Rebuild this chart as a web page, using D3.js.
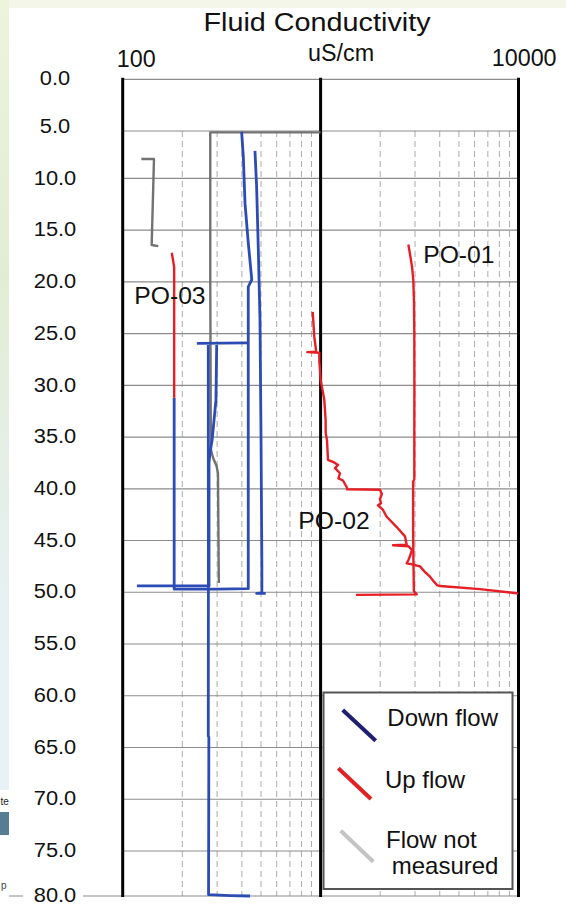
<!DOCTYPE html>
<html>
<head>
<meta charset="utf-8">
<script src="https://cdn.jsdelivr.net/npm/d3@7"></script>
<style>
  body { margin: 0; background: #fff; }
  svg { display: block; font-family: "Liberation Sans", Arial, sans-serif; }
</style>
</head>
<body>
<svg id="chart" width="566" height="916"></svg>
<script>
// ---- Axis ticks and labels ----
const depthTicks = [0, 5, 10, 15, 20, 25, 30, 35, 40, 45, 50, 55, 60, 65, 70, 75, 80];
const depthTickLabels = depthTicks.map(d => d.toFixed(1));
const condTicks = [100, 1000, 10000];
const condTickLabels = ["100", "uS/cm", "10000"];
const condMinorTicks = [200, 300, 400, 500, 600, 700, 800, 900,
                        2000, 3000, 4000, 5000, 6000, 7000, 8000, 9000];

// ---- Logged profiles: [depth (m), conductivity (uS/cm)] ----
const po01Up = [[16.4, 2775], [17.5, 2840], [18.6, 2900], [19.8, 2940], [22, 2965], [25, 2975],
  [30, 2978], [35, 2975], [39.1, 2975], [39.3, 2935], [44, 2935], [47, 2945], [49.9, 2960],
  [50.2, 3060], [50.25, 1510]];

const po02Up = [[22.9, 912], [24, 920], [25.3, 929], [26.4, 945], [26.75, 950], [26.8, 857],
  [26.85, 985], [27.6, 985], [29.5, 1001], [31.4, 1044], [33.35, 1060], [34.6, 1061], [35.3, 1077],
  [37.2, 1090], [37.35, 1138], [37.5, 1182], [37.7, 1225], [38.0, 1182], [38.5, 1253], [39.0, 1230],
  [39.2, 1298], [39.9, 1360], [40.05, 1360], [40.1, 1996], [40.5, 2040], [41.0, 1996], [41.4, 2020],
  [41.6, 1950], [42.0, 2060], [42.7, 2158], [43.7, 2424], [44.6, 2670], [45.4, 2723], [45.45, 2322],
  [45.55, 2775], [45.9, 2895], [46.5, 2830], [46.9, 2775], [47.2, 2723], [47.3, 2900], [47.5, 3179],
  [48.0, 3350], [48.5, 3572], [49.0, 3750], [49.3, 3874], [49.4, 4011], [49.7, 6391], [50.1, 9793],
  [50.15, 9950]];

const po03Up = [[17.2, 177], [18.0, 180], [18.6, 182], [25, 182], [31.2, 182]];

const downFlowA = [[31.2, 182], [49.7, 182], [49.7, 300], [49.65, 431], [40, 431], [30, 431],
  [25.9, 431], [21.8, 431], [20.5, 431], [19.8, 449], [16, 430], [12.4, 415], [7.75, 407], [5.1, 399]];
const downFlowB = [[25.95, 237], [25.9, 431]];
const downFlowC = [[26.1, 298.5], [31.4, 296], [35.3, 283], [36.5, 276], [37.5, 273], [49.39, 273],
  [49.39, 118]];
const downFlowD = [[26.1, 270.7], [49, 271], [63.9, 270.7], [64, 272.5], [79.85, 271.5],
  [79.95, 350], [80, 440]];
const downFlowE = [[7.1, 466], [10.8, 475], [17.2, 485], [23.7, 494], [35, 500], [47.5, 505],
  [50.05, 505], [50.1, 475], [50.1, 528]];

const notMeasuredA = [[5.15, 1000], [5.15, 277], [20, 277], [36.2, 279], [37, 286], [37.8, 298],
  [38.5, 303], [49.1, 306]];
const notMeasuredB = [[7.96, 124.2], [7.96, 143.9], [16.44, 140.1], [16.55, 151.3]];

const wellNames = ["PO-01", "PO-02", "PO-03"];
const legendLabels = ["Down flow", "Up flow", "Flow not measured"];

// ---- Styles ----
const BLUE = "#2d4bb4", RED = "#e61e25", GRAY = "#727272";
const LEGEND_COLORS = ["#1f1f70", "#e02226", "#c4c4c4"];

const svg = d3.select("#chart");

// Scales (depth axis runs downward; the end intervals are slightly compressed)
const x = d3.scaleLog().domain([100, 10000]).range([122.7, 518.5]);
const y = d3.scaleLinear().domain([0, 5, 10, 75, 80]).range([79.3, 131, 178.3, 851, 896]);
const yLabel = d3.scaleLinear().domain([0, 5, 75, 80]).range([78, 126, 850, 895]);

// ---- Page background: pale slide edges ----
const defs = svg.append("defs");
const grad = defs.append("linearGradient").attr("id", "edge").attr("x1", 0).attr("y1", 0).attr("x2", 0).attr("y2", 1);
[["0%", "#eef3dc"], ["35%", "#e1edd3"], ["60%", "#e5efe8"], ["85%", "#e8f1f6"], ["100%", "#e8f1f6"]]
  .forEach(([o, c]) => grad.append("stop").attr("offset", o).attr("stop-color", c));
svg.append("rect").attr("x", 0).attr("y", 0).attr("width", 566).attr("height", 8).attr("fill", "#f4f6ea");
svg.append("rect").attr("x", 0).attr("y", 0).attr("width", 9).attr("height", 790).attr("fill", "url(#edge)");
svg.append("rect").attr("x", 0).attr("y", 812).attr("width", 9).attr("height", 23).attr("fill", "#587c93");
svg.append("text").attr("x", 0.5).attr("y", 805)
  .style("font-size", "10px").attr("fill", "#222").text("te");
svg.append("text").attr("x", 1).attr("y", 889)
  .style("font-size", "10px").attr("fill", "#444").text("p");

// ---- Grid ----
const grid = svg.append("g");
grid.selectAll("line.minor").data(condMinorTicks).join("line")
  .attr("x1", d => x(d)).attr("x2", d => x(d))
  .attr("y1", y(5)).attr("y2", y(80))
  .attr("stroke", "#ababab").attr("stroke-width", 1).attr("stroke-dasharray", "6,4");
grid.selectAll("line.h").data(depthTicks).join("line")
  .attr("x1", x(100)).attr("x2", x(10000))
  .attr("y1", d => y(d)).attr("y2", d => y(d))
  .attr("stroke", "#8c8c8c").attr("stroke-width", 1.2);
// bottom rule extends left under the depth labels
grid.append("line").attr("x1", 9).attr("x2", x(100)).attr("y1", y(80)).attr("y2", y(80))
  .attr("stroke", "#8c8c8c").attr("stroke-width", 1.2);
grid.selectAll("line.major").data(condTicks).join("line")
  .attr("x1", d => x(d)).attr("x2", d => x(d))
  .attr("y1", y(0) - 1.5).attr("y2", y(80) + 1)
  .attr("stroke", "#000").attr("stroke-width", 3);

// ---- Stretched text helper ----
function stretchText(g, px, py, txt, fs, sx, anchor) {
  return g.append("text")
    .attr("transform", `translate(${px},${py}) scale(${sx},1)`)
    .attr("text-anchor", anchor || "middle")
    .style("font-size", fs + "px")
    .attr("fill", "#111")
    .text(txt);
}

// ---- Depth labels ----
const yAxisG = svg.append("g");
depthTicks.forEach((d, i) => {
  if (d === 80) {
    yAxisG.append("rect").attr("x", 23).attr("y", yLabel(d) - 12).attr("width", 60).attr("height", 22).attr("fill", "#fff");
  }
  stretchText(yAxisG, 55, yLabel(d) + 7, depthTickLabels[i], 19.5, 1.12, "middle");
});

// ---- Conductivity labels and title ----
const topG = svg.append("g");
const topDx = [13.5, 20.5, 5.7];
const topBase = [66.5, 61, 66];
condTicks.forEach((v, i) => {
  topG.append("text").attr("x", x(v) + topDx[i]).attr("y", topBase[i])
    .attr("text-anchor", "middle").style("font-size", "23.3px").attr("fill", "#111")
    .text(condTickLabels[i]);
});
stretchText(topG, 317, 31, "Fluid Conductivity", 26.5, 1.086, "middle");

// ---- Profiles ----
const line = d3.line().x(d => x(d[1])).y(d => y(d[0]));
const series = [
  { data: notMeasuredA, color: GRAY, w: 2.4 },
  { data: notMeasuredB, color: GRAY, w: 2.4 },
  { data: downFlowA, color: BLUE, w: 2.8 },
  { data: downFlowB, color: BLUE, w: 2.8 },
  { data: downFlowC, color: BLUE, w: 2.8 },
  { data: downFlowD, color: BLUE, w: 2.8 },
  { data: downFlowE, color: BLUE, w: 2.8 },
  { data: po03Up, color: RED, w: 2.4 },
  { data: po02Up, color: RED, w: 2.4 },
  { data: po01Up, color: RED, w: 2.4 }
];
svg.append("g").selectAll("path").data(series).join("path")
  .attr("d", s => line(s.data))
  .attr("fill", "none").attr("stroke", s => s.color).attr("stroke-width", s => s.w)
  .attr("stroke-linejoin", "round").attr("stroke-linecap", "butt");

// ---- Well names ----
const wellAnchors = [[3300, 18.15], [772, 43.9], [114.4, 22.17]];
svg.append("g").selectAll("text").data(wellNames).join("text")
  .attr("x", (d, i) => x(wellAnchors[i][0]))
  .attr("y", (d, i) => y(wellAnchors[i][1]))
  .style("font-size", "24.7px").attr("fill", "#111")
  .text(d => d);

// ---- Legend ----
const lg = svg.append("g");
lg.append("rect").attr("x", 323.5).attr("y", 692.5).attr("width", 189).attr("height", 196.5)
  .attr("fill", "#fff").attr("stroke", "#555").attr("stroke-width", 2);
const legendSwatch = [[342.7, 710, 375.7, 740.7], [338.3, 768.3, 371, 799], [340.7, 830.7, 373.3, 861.7]];
const legendText = [[[387.3, 725.7, "Down flow"]], [[385, 788.3, "Up flow"]],
  [[386, 848.3, "Flow not"], [391.7, 874.3, "measured"]]];
legendLabels.forEach((lab, i) => {
  const s = legendSwatch[i];
  lg.append("line").attr("x1", s[0]).attr("y1", s[1]).attr("x2", s[2]).attr("y2", s[3])
    .attr("stroke", LEGEND_COLORS[i]).attr("stroke-width", 4);
  legendText[i].forEach(([tx, ty, t]) => {
    lg.append("text").attr("x", tx).attr("y", ty).style("font-size", "24px").attr("fill", "#111").text(t);
  });
});
</script>
</body>
</html>
